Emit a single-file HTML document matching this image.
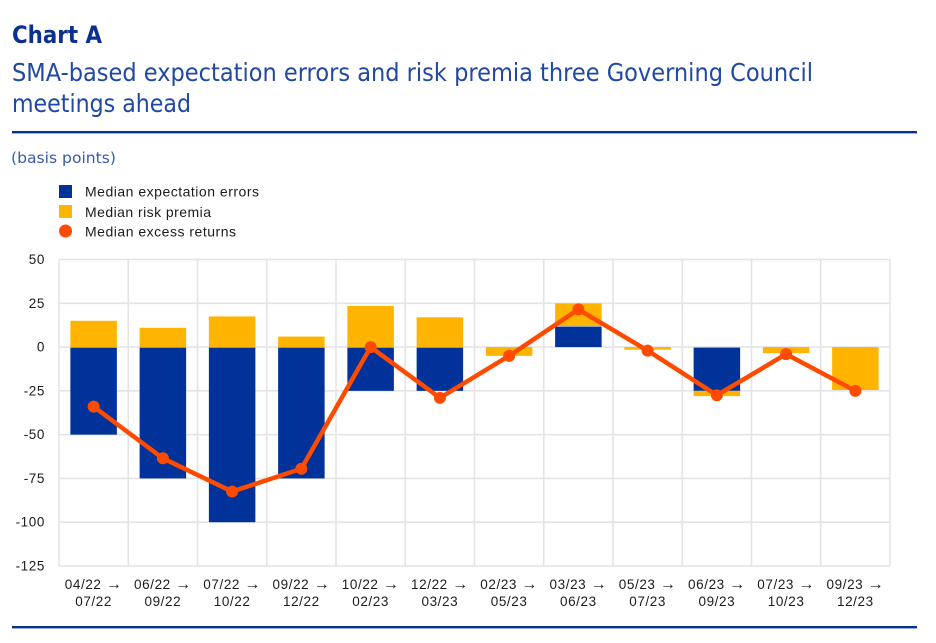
<!DOCTYPE html>
<html lang="en">
<head>
<meta charset="utf-8">
<title>Chart A</title>
<style>
html,body{margin:0;padding:0;background:#fff;width:936px;height:643px;overflow:hidden}
svg{display:block}
text{font-family:"Liberation Sans",sans-serif}
.hd{font-family:"DejaVu Sans","Liberation Sans",sans-serif}
.tick{font-size:13.5px;fill:#1c1c1c}
.lg{font-size:14px;fill:#1c1c1c}
</style>
</head>
<body>
<svg id="chart" xmlns="http://www.w3.org/2000/svg" width="936" height="643" viewBox="0 0 936 643">
  <rect x="0" y="0" width="936" height="643" fill="#fff"/>
  <text class="hd" x="12" y="43" font-size="24" font-weight="700" fill="#0b3190" textLength="90" lengthAdjust="spacingAndGlyphs">Chart A</text>
  <text class="hd" x="12" y="81" font-size="24.5" fill="#2148a3" textLength="801" lengthAdjust="spacingAndGlyphs">SMA-based expectation errors and risk premia three Governing Council</text>
  <text class="hd" x="12" y="112" font-size="24.5" fill="#2148a3" textLength="179" lengthAdjust="spacingAndGlyphs">meetings ahead</text>
  <rect x="12" y="131" width="905" height="2.4" fill="#0b3190"/>
  <text class="hd" x="11" y="163" font-size="15.5" fill="#3a5bad" textLength="105" lengthAdjust="spacingAndGlyphs">(basis points)</text>

  <g>
    <rect x="59" y="185" width="13" height="13" fill="#003299"/>
    <text class="lg" x="85" y="196.5" textLength="174" lengthAdjust="spacing">Median expectation errors</text>
    <rect x="59" y="205" width="13" height="13" fill="#ffb400"/>
    <text class="lg" x="85" y="217" textLength="126" lengthAdjust="spacing">Median risk premia</text>
    <circle cx="65.5" cy="231" r="6.5" fill="#ff4b00"/>
    <text class="lg" x="85" y="236.5" textLength="151" lengthAdjust="spacing">Median excess returns</text>
  </g>

  <g id="grid"></g>
  <g id="yaxis"></g>
  <g id="bars"></g>
  <g id="line"></g>
  <g id="xaxis"></g>

  <rect x="12" y="626" width="905" height="2.4" fill="#0b3190"/>
</svg>
<script>
var categoryStarts = ['04/22','06/22','07/22','09/22','10/22','12/22','02/23','03/23','05/23','06/23','07/23','09/23'];
var categoryEnds = ['07/22','09/22','10/22','12/22','02/23','03/23','05/23','06/23','07/23','09/23','10/23','12/23'];
var expectationErrors = [-50,-75,-100,-75,-25,-25,0,12,0,-25,0,0];
var riskPremia = [15,11,17.5,6,23.5,17,-5,13,-1.5,-3,-3.5,-24.5];
var excessReturns = [-34,-63.5,-82.5,-69.5,0,-29,-5,21.5,-2,-27.5,-4,-25];
var yTicks = [50,25,0,-25,-50,-75,-100,-125];

var NS = 'http://www.w3.org/2000/svg';
var plotLeft = 59, plotRight = 890, plotTop = 259.5, plotBottom = 566;
var yMax = 50, yMin = -125;
var step = (plotRight - plotLeft) / categoryStarts.length;
var barWidth = 46.5;
function yScale(v){ return plotTop + (yMax - v) / (yMax - yMin) * (plotBottom - plotTop); }
function xBand(i){ return plotLeft + i * step; }
function xCenter(i){ return xBand(i) + step / 2; }
function make(tag, attrs, parent){
  var el = document.createElementNS(NS, tag);
  for (var k in attrs) el.setAttribute(k, attrs[k]);
  parent.appendChild(el);
  return el;
}

var gridG = document.getElementById('grid');
yTicks.forEach(function(t){
  var gl = make('line', {x1: plotLeft, x2: plotRight, y1: yScale(t), y2: yScale(t), stroke: '#e4e4e7', 'stroke-width': 1.6}, gridG);
  
  
});
for (var gi = 0; gi <= categoryStarts.length; gi++) {
  var vl = make('line', {x1: xBand(gi), x2: xBand(gi), y1: plotTop, y2: plotBottom, stroke: '#e4e4e7', 'stroke-width': 1.6}, gridG);
  
  
}

var yG = document.getElementById('yaxis');
yTicks.forEach(function(t){
  var lab = make('text', {x: 45, y: yScale(t) + 4.5, 'text-anchor': 'end', 'class': 'tick', 'letter-spacing': '0.6'}, yG);
  lab.textContent = t < 0 ? '-' + Math.abs(t) : String(t);
  
  
});

var barsG = document.getElementById('bars');
expectationErrors.forEach(function(err, i){
  var risk = riskPremia[i];
  var left = xCenter(i) - barWidth / 2;
  if (err !== 0) {
    var b = make('rect', {x: left, width: barWidth, y: yScale(Math.max(err, 0)) + 0.5, height: Math.abs(yScale(err) - yScale(0)) - 0.5, fill: '#003299'}, barsG);
    
    
  }
  var base = (err !== 0 && (err > 0) === (risk > 0)) ? err : 0;
  var a = yScale(base), c = yScale(base + risk);
  var r = make('rect', {x: left, width: barWidth, y: Math.min(a, c), height: Math.abs(c - a), fill: '#ffb400'}, barsG);
  
  
});

var lineG = document.getElementById('line');
var pts = excessReturns.map(function(v, i){ return xCenter(i) + ',' + yScale(v); }).join(' ');
var pl = make('polyline', {points: pts, fill: 'none', stroke: '#ff4b00', 'stroke-width': 4.5, 'stroke-linejoin': 'round'}, lineG);


excessReturns.forEach(function(v, i){
  var p = make('circle', {cx: xCenter(i), cy: yScale(v), r: 6, fill: '#ff4b00'}, lineG);
  
  
});

var xG = document.getElementById('xaxis');
categoryStarts.forEach(function(s, i){
  var t1 = make('text', {x: xCenter(i), y: 589, 'text-anchor': 'middle', 'class': 'tick', 'letter-spacing': '0.6'}, xG);
  t1.textContent = s + ' ';
  var arrow = make('tspan', {'font-size': '16'}, t1);
  arrow.textContent = '\u2192';
  
  
  var t2 = make('text', {x: xCenter(i), y: 606, 'text-anchor': 'middle', 'class': 'tick', 'letter-spacing': '0.6'}, xG);
  t2.textContent = categoryEnds[i];
  
  
});
</script>
</body>
</html>
